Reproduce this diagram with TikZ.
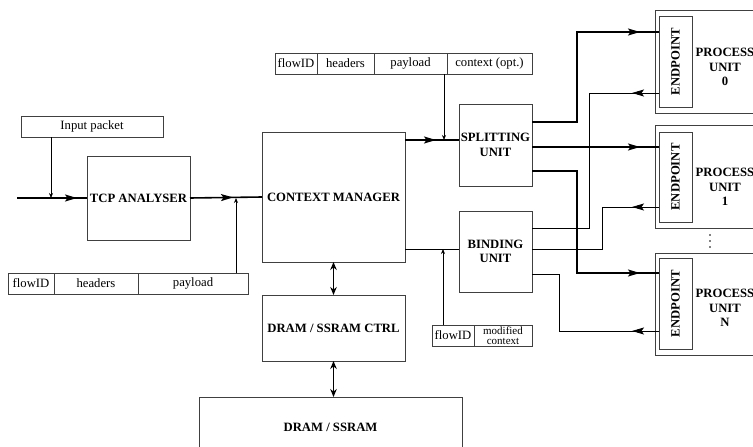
\documentclass[tikz,border=0pt]{standalone}
\usepackage{fontspec}
\usepackage{graphicx}
\setmainfont{Liberation Serif}
\usetikzlibrary{arrows.meta,decorations.markings}
\tikzset{
  box/.style={draw=black!75, line width=0.8pt, rectangle, inner sep=0pt, outer sep=0pt, align=center},
  bold/.style={font=\bfseries\fontsize{12.7}{14.5}\selectfont},
  reg/.style={font=\fontsize{12.7}{14.5}\selectfont},
  cell/.style={box, reg, minimum height=21pt},
  thickline/.style={line width=1.6pt, black},
  thinline/.style={line width=0.8pt, black},
  smallarr/.style={-{Stealth[length=5pt,width=4pt]}},
  midarr/.style={postaction={decorate,decoration={markings,mark=at position #1 with {\arrow{Stealth[length=12pt,width=7pt,inset=2.5pt]}}}}},
  dblarr/.style={line width=1.3pt, {Stealth[length=8pt,width=6.5pt]}-{Stealth[length=8pt,width=6.5pt]}}
}
\begin{document}
\begin{tikzpicture}[x=1pt,y=-1pt]
\useasboundingbox (0,0) rectangle (753,447);
\clip (0,0) rectangle (753,447);

% main boxes
\node[box,bold,minimum width=103pt,minimum height=84pt] (tcp) at (138.5,198) {TCP ANALYSER};
\node[box,bold,minimum width=143pt,minimum height=130pt] (cm) at (333.5,197) {CONTEXT MANAGER};
\node[box,bold,minimum width=143pt,minimum height=66pt] (ctrl) at (333.5,328) {DRAM / SSRAM CTRL};
\node[box,minimum width=263pt,minimum height=80pt] (dram) at (330.5,437) {};
\node[bold] (dramt) at (330.5,427) {DRAM / SSRAM};
\node[box,bold,minimum width=73pt,minimum height=82pt] (split) at (495.5,145) {SPLITTING\\UNIT};
\node[box,bold,minimum width=73pt,minimum height=81pt] (bind) at (495.5,251.5) {BINDING\\UNIT};

% input packet
\node[box,reg,minimum width=142pt,minimum height=21pt] (inpkt) at (92,126.5) {Input packet};

% field rows
\node[cell,minimum width=46pt] (f1a) at (31,283.5) {flowID};
\node[cell,minimum width=84pt] (f1b) at (96,283.5) {headers};
\node[cell,minimum width=110pt] (f1c) at (193,283.5) {payload};

\node[cell,minimum width=42pt] (f2a) at (296,63.5) {flowID};
\node[cell,minimum width=57pt] (f2b) at (345.5,63.5) {headers};
\node[cell,minimum width=73pt] (f2c) at (410.5,63.5) {payload};
\node[cell,minimum width=85pt] (f2d) at (489.5,63.5) {context (opt.)};

\node[cell,minimum width=42pt] (f3a) at (453,335.5) {flowID};
\node[cell,minimum width=58pt,font=\fontsize{11}{9.5}\selectfont] (f3b) at (503,335.5) {modified\\context};

% process units
\node[box,minimum width=145pt,minimum height=103pt] (pu0) at (727.5,61.5) {};
\node[box,minimum width=145pt,minimum height=103pt] (pu1) at (727.5,176.5) {};
\node[box,minimum width=145pt,minimum height=102pt] (puN) at (727.5,304) {};
\node[box,bold,minimum width=33pt,minimum height=91pt] (ep0) at (675.5,61.5) {\rotatebox{90}{ENDPOINT}};
\node[box,bold,minimum width=33pt,minimum height=90pt] (ep1) at (675.5,177) {\rotatebox{90}{ENDPOINT}};
\node[box,bold,minimum width=33pt,minimum height=91pt] (epN) at (675.5,303.5) {\rotatebox{90}{ENDPOINT}};
\node[bold,align=center] (pu0t) at (725,67) {PROCESS\\UNIT\\0};
\node[bold,align=center] (pu1t) at (725,187) {PROCESS\\UNIT\\1};
\node[bold,align=center] (puNt) at (725,308) {PROCESS\\UNIT\\N};
\fill (710,235) circle (0.8pt) (710,241) circle (0.8pt) (710,247) circle (0.8pt);

% junction coordinates
\coordinate (in) at (17,198);
\coordinate (j0) at (51,198);
\coordinate (j1) at (236,198);
\coordinate (j2) at (444,140);
\coordinate (j3) at (443,249);

% left chain
\draw[thickline,midarr=-10pt] (in) -- (tcp.west);
\draw[thinline,smallarr] (inpkt.south -| j0) -- (j0);
\draw[thickline,midarr=-29pt] (tcp.east) -- (cm.west);
\draw[thinline,smallarr] (f1c.north -| j1) -- (j1);

% context manager outputs
\draw[thickline,midarr=-23pt] (cm.east |- j2) -- (split.west |- j2);
\draw[thinline,smallarr] (f2c.south -| j2) -- (j2);
\draw[thinline] (cm.east |- j3) -- (bind.west |- j3);
\draw[thinline,smallarr] (f3a.north -| j3) -- (j3);

% memory
\draw[dblarr] (cm.south) -- (ctrl.north);
\draw[dblarr] (ctrl.south) -- (ctrl.south |- dram.north);

% splitting unit outputs
\draw[thickline,midarr=-19pt] (split.east |- 0,122) -| (577,32) -- (ep0.west |- 0,32);
\draw[thickline,midarr=-19pt] (split.east |- 0,147) -- (ep1.west |- 0,147);
\draw[thickline,midarr=-19pt] (split.east |- 0,171) -| (577,273) -- (epN.west |- 0,273);

% returns to binding unit
\draw[thinline,midarr=27pt] (ep0.west |- 0,93) -| (589,228) -- (bind.east |- 0,228);
\draw[thinline,midarr=27pt] (ep1.west |- 0,207) -| (602,249) -- (bind.east |- 0,249);
\draw[thinline,midarr=27pt] (epN.west |- 0,331) -| (559,274) -- (bind.east |- 0,274);
\end{tikzpicture}
\end{document}
